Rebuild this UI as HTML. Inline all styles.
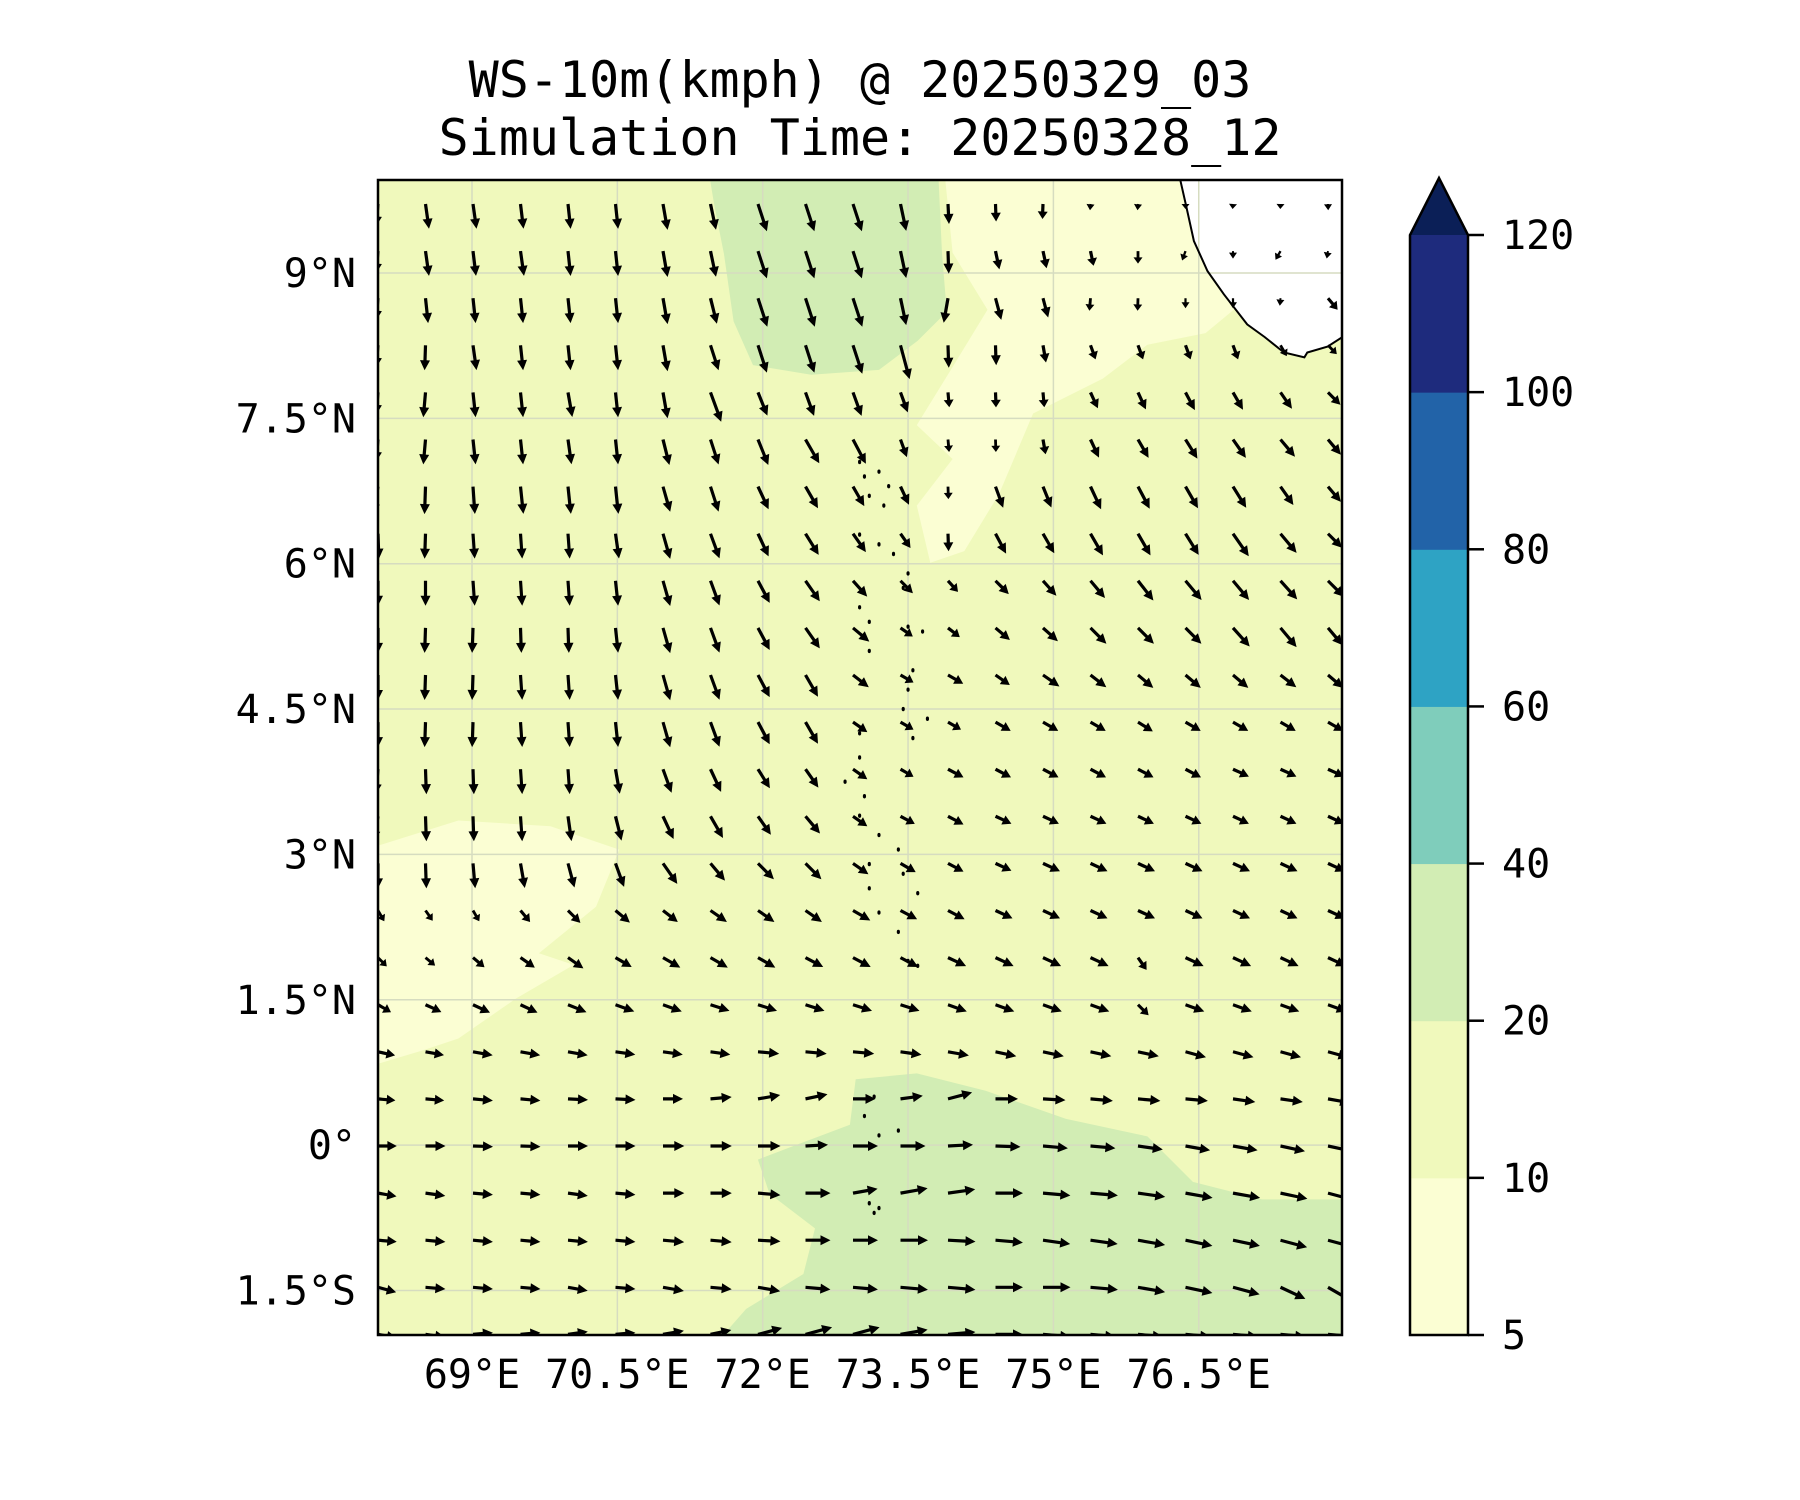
<!DOCTYPE html>
<html><head><meta charset="utf-8">
<style>
html,body{margin:0;padding:0;background:#fff;}
svg{display:block;}
text{font-family:"DejaVu Sans Mono","Liberation Mono",monospace;fill:#000;}
</style></head>
<body>
<svg id="chart" width="1800" height="1500" viewBox="0 0 1800 1500" xmlns="http://www.w3.org/2000/svg">
  <text x="860" y="97" font-size="50" text-anchor="middle">WS-10m(kmph) @ 20250329_03</text>
  <text x="860" y="155" font-size="50" text-anchor="middle">Simulation Time: 20250328_12</text>
  <defs><clipPath id="mapclip"><rect x="378" y="180" width="964" height="1155"/></clipPath></defs>
  <g id="map" clip-path="url(#mapclip)"></g>
  <rect x="378" y="180" width="964" height="1155" fill="none" stroke="#000" stroke-width="2.5"/>
  <g id="axes"></g>
  <g id="cbar"></g>
</svg>
<script>
const NS="http://www.w3.org/2000/svg";
// ---- data ----
const lonTicks=[69,70.5,72,73.5,75,76.5];
const lonTickLabels=["69°E","70.5°E","72°E","73.5°E","75°E","76.5°E"];
const latTicks=[9,7.5,6,4.5,3,1.5,0,-1.5];
const latTickLabels=["9°N","7.5°N","6°N","4.5°N","3°N","1.5°N","0°","1.5°S"];
const cbarLevels=[5,10,20,40,60,80,100,120];
const cbarColors=["#fbfed3","#f0f9bc","#d2edb4","#7fcdbb","#2ea3c4","#2263a8","#1e2b7d"];
const cbarExtendColor="#0b1f57";
// wind direction (screen degrees, 0=east, 90=south) per row (north→south) and column (west→east)
const windDir=[
[95,82,82,83,84,84,80,78,72,72,72,78,87,88,92,95,95,90,95,92,88],
[95,82,83,82,84,84,80,78,72,72,72,78,88,78,78,78,90,110,90,120,100],
[95,84,84,84,84,84,80,76,72,72,72,78,100,75,75,95,92,90,90,95,50],
[95,92,82,84,84,84,80,72,72,72,72,75,88,88,80,70,70,70,70,60,45],
[95,95,84,84,80,84,80,70,68,70,70,70,85,88,85,65,65,62,60,55,45],
[95,95,84,84,82,84,76,72,68,60,62,70,85,88,80,65,60,58,55,50,50],
[100,92,86,84,84,84,74,72,65,60,60,65,88,70,68,65,62,60,58,55,50],
[88,92,86,86,86,82,74,70,65,58,55,55,88,62,60,60,60,58,55,50,45],
[90,90,86,86,86,84,74,70,62,55,48,45,48,45,48,50,52,50,50,48,45],
[90,92,92,88,88,84,74,70,62,55,40,35,38,40,42,45,45,45,48,50,50],
[90,92,92,86,86,84,74,70,62,60,38,30,30,35,35,38,40,40,40,38,40],
[90,92,92,86,86,84,74,70,62,60,35,30,30,30,30,30,32,30,30,30,30],
[95,88,88,86,86,80,70,65,58,55,35,30,28,28,28,28,28,28,25,25,25],
[100,88,88,86,82,76,65,60,55,50,35,28,28,25,25,25,25,25,25,25,25],
[90,88,85,80,75,70,55,50,45,45,35,30,28,25,25,25,25,25,25,25,25],
[60,55,60,50,45,40,38,35,35,35,30,28,28,25,25,25,25,25,25,25,25],
[45,40,40,35,35,30,30,30,30,28,28,28,25,25,25,25,55,25,25,25,25],
[30,25,25,25,22,20,20,18,18,18,18,18,20,20,20,20,45,20,20,20,20],
[12,10,10,10,10,8,8,8,5,5,5,8,10,12,12,12,12,15,15,15,15],
[5,5,5,5,3,3,0,-5,-10,-12,0,-8,-15,0,3,5,5,5,8,8,10],
[0,0,2,2,0,0,0,0,0,-3,0,0,-3,2,5,5,8,10,10,12,12],
[10,8,5,5,8,5,0,0,5,0,-10,-10,-8,0,5,5,8,10,10,12,15],
[5,5,5,5,5,5,5,5,3,0,0,0,3,5,8,8,10,12,12,15,15],
[15,5,5,5,10,5,10,5,10,5,5,5,5,0,0,5,10,12,15,25,30],
[10,8,-5,-5,-8,-5,-10,-12,-15,-15,-15,-10,-5,0,5,5,5,5,5,5,5]
];
const windSpd=[
[18,20,20,20,20,20,21,21,23,23,23,22,16,14,12,5,5,4,4,4,5],
[18,20,20,20,20,20,21,21,23,23,23,22,18,15,14,12,10,8,6,8,6],
[18,20,20,20,20,20,21,21,24,24,24,22,20,18,16,10,10,8,8,6,12],
[18,20,20,20,20,20,21,21,23,23,24,28,18,16,14,12,12,12,12,10,10],
[18,20,20,20,20,20,21,25,20,20,20,17,12,12,12,14,15,16,16,16,14],
[18,20,20,20,20,20,21,21,22,22,22,15,10,10,12,16,17,18,18,18,16],
[22,22,22,22,22,22,21,21,20,20,18,16,10,18,18,20,20,20,20,18,16],
[20,20,20,20,20,20,21,21,20,20,18,14,14,18,18,20,20,20,22,20,16],
[20,20,20,20,20,20,21,21,20,20,17,14,12,15,16,18,20,20,20,20,18],
[20,20,20,20,20,20,21,21,20,20,17,12,12,15,16,18,18,18,20,20,18],
[20,20,20,20,20,20,21,21,20,20,16,12,14,14,16,16,16,16,16,16,16],
[20,20,20,20,20,20,21,21,20,20,14,12,12,14,14,14,14,14,14,14,14],
[20,20,20,20,20,20,20,20,18,18,14,12,14,14,14,14,14,14,14,14,14],
[20,20,20,20,20,20,20,20,18,18,14,13,14,14,14,14,14,14,14,14,14],
[20,20,20,20,20,20,20,18,18,18,15,14,14,14,15,15,15,15,15,15,15],
[10,10,10,12,14,15,15,16,16,16,16,15,15,15,15,15,15,15,15,15,15],
[10,10,12,14,15,15,16,16,16,16,16,16,16,16,16,16,12,16,16,16,16],
[12,14,15,15,16,16,16,16,16,16,16,16,16,16,16,16,12,16,16,16,16],
[14,15,16,16,16,16,16,16,17,17,17,17,17,17,17,17,17,17,17,17,17],
[14,15,16,16,16,16,16,17,18,18,18,18,20,18,18,18,18,18,18,18,18],
[15,16,16,16,16,16,17,17,18,18,20,20,20,20,20,20,20,20,20,20,20],
[15,16,16,16,16,16,17,17,18,20,20,22,22,22,22,22,22,22,22,22,22],
[15,16,16,16,16,16,17,17,18,20,20,22,22,22,22,22,22,22,22,22,22],
[15,16,16,16,16,16,17,17,18,20,20,22,22,22,22,22,22,22,22,22,24],
[15,16,16,16,16,16,17,17,20,22,22,22,22,22,22,20,20,20,20,20,20]
];
// contour regions [lon,lat]
const greenNorth=[[71.4,10.3],[73.8,10.3],[73.85,9.2],[73.9,8.6],[73.6,8.3],[73.2,8.0],[72.5,7.95],[71.9,8.05],[71.7,8.5],[71.6,9.2],[71.5,9.7]];
const greenSouth=[[72.96,0.68],[73.59,0.74],[74.3,0.56],[75.13,0.27],[75.97,0.09],[76.44,-0.38],[77.15,-0.56],[78.1,-0.56],[78.1,-2.1],[71.47,-2.1],[71.83,-1.69],[72.42,-1.33],[72.54,-0.86],[72.07,-0.5],[71.95,-0.15],[72.42,0.03],[72.9,0.21]];
const lightWest=[[67.9,3.05],[68.86,3.35],[69.81,3.29],[70.52,3.05],[70.28,2.46],[69.69,1.98],[70.05,1.86],[69.45,1.51],[68.86,1.10],[68.5,0.98],[67.9,0.80]];
const lightNE=[[73.59,10.3],[78.1,10.3],[78.1,9.27],[77.15,8.86],[76.57,8.38],[75.97,8.26],[75.51,7.91],[74.79,7.55],[74.44,6.72],[74.08,6.13],[73.73,6.01],[73.59,6.6],[73.96,7.08],[73.59,7.43],[73.96,8.03],[74.32,8.62],[73.96,9.21],[73.85,10.3]];
const coast=[[76.3,10.0],[76.37,9.69],[76.45,9.33],[76.59,9.02],[76.76,8.78],[77.0,8.47],[77.18,8.34],[77.38,8.18],[77.59,8.13],[77.62,8.18],[77.83,8.24],[78.0,8.35]];
const islands=[[73.0,7.05],[73.05,6.9],[73.2,6.95],[73.3,6.8],[73.1,6.7],[73.25,6.6],[73.0,6.3],[73.2,6.2],[73.35,6.1],[73.5,5.9],[73.45,5.75],[73.0,5.55],[73.1,5.4],[73.5,5.35],[73.65,5.3],[73.1,5.1],[73.55,4.9],[73.5,4.7],[73.45,4.5],[73.7,4.4],[73.55,4.2],[73.0,4.25],[73.0,4.0],[72.85,3.75],[73.05,3.6],[73.0,3.4],[73.2,3.2],[73.1,2.9],[73.4,3.05],[73.45,2.8],[73.1,2.65],[73.2,2.4],[73.6,2.6],[73.4,2.2],[73.5,1.9],[73.6,1.85],[73.15,0.5],[73.05,0.3],[73.2,0.1],[73.4,0.15],[73.1,-0.6],[73.2,-0.65],[73.15,-0.7]];
// ---- axis functions ----
const PPD=96.9;
function X(lon){return 472+(lon-69)*PPD;}
function Y(lat){return 273+(9-lat)*PPD;}
function colX(j){return 378+47.5*j;}
function rowY(k){return 204+47.1*k;}
const ARROW_SCALE=1.25;
function cbY(i){return 1335-i*(1100/7);}

const map=document.getElementById('map');
function mk(tag,attrs,parent){const e=document.createElementNS(NS,tag);for(const a in attrs)e.setAttribute(a,attrs[a]);(parent||map).appendChild(e);return e;}
function poly(pts){return pts.map(p=>X(p[0]).toFixed(1)+","+Y(p[1]).toFixed(1)).join(" ");}

let bg=mk('rect',{x:378,y:180,width:964,height:1155,fill:cbarColors[1]});


let p1=mk('polygon',{points:poly(greenNorth),fill:cbarColors[2]});


let p2=mk('polygon',{points:poly(greenSouth),fill:cbarColors[2]});


let p3=mk('polygon',{points:poly(lightWest),fill:cbarColors[0]});


let p4=mk('polygon',{points:poly(lightNE),fill:cbarColors[0]});


let land=mk('polygon',{points:poly(coast.concat([[78.1,8.35],[78.1,10.3],[76.3,10.3]])),fill:"#ffffff"});


// gridlines
lonTicks.forEach(l=>{let g=mk('line',{x1:X(l),x2:X(l),y1:180,y2:1335,stroke:"#d6dcc0","stroke-width":1.5});

});
latTicks.forEach(l=>{let g=mk('line',{x1:378,x2:1342,y1:Y(l),y2:Y(l),stroke:"#d6dcc0","stroke-width":1.5});

});
let cl=mk('polyline',{points:poly(coast),fill:"none",stroke:"#000","stroke-width":2});


islands.forEach(p=>{let d=mk('ellipse',{cx:X(p[0]),cy:Y(p[1]),rx:1.6,ry:2.2,fill:"#000"});

});
// arrows
for(let k=0;k<windDir.length;k++){for(let j=0;j<windDir[k].length;j++){
  const a=windDir[k][j]*Math.PI/180,L=windSpd[k][j]*ARROW_SCALE;
  const x0=colX(j),y0=rowY(k),ux=Math.cos(a),uy=Math.sin(a),nx=-uy,ny=ux;
  const f=Math.min(1,L/14);
  const w=1.6*Math.max(0.6,f),hw=5*Math.max(0.8,f),hl=Math.min(10,Math.max(6,L*0.5)),sl=Math.max(0,L-hl);
  const pts=[[x0+nx*w,y0+ny*w],[x0+ux*sl+nx*w,y0+uy*sl+ny*w],[x0+ux*sl+nx*hw,y0+uy*sl+ny*hw],[x0+ux*L,y0+uy*L],
    [x0+ux*sl-nx*hw,y0+uy*sl-ny*hw],[x0+ux*sl-nx*w,y0+uy*sl-ny*w],[x0-nx*w,y0-ny*w]];
  const ar=mk('polygon',{points:pts.map(p=>p[0].toFixed(1)+","+p[1].toFixed(1)).join(" "),fill:"#000"});
  
  
}}
// axes labels
const axes=document.getElementById('axes');
lonTicks.forEach((l,i)=>{const t=mk('text',{x:X(l),y:1388,"font-size":40,"text-anchor":"middle"},axes);t.textContent=lonTickLabels[i];

});
latTicks.forEach((l,i)=>{const t=mk('text',{x:356,y:Y(l)+14,"font-size":40,"text-anchor":"end"},axes);t.textContent=latTickLabels[i];

});
// colorbar
const cb=document.getElementById('cbar');
for(let i=0;i<cbarColors.length;i++){const r=mk('rect',{x:1410,y:cbY(i+1),width:58,height:cbY(i)-cbY(i+1)+0.5,fill:cbarColors[i]},cb);

}
const tri=mk('polygon',{points:`1410,${cbY(7)} 1468,${cbY(7)} 1439,178`,fill:cbarExtendColor},cb);


const ol=mk('polygon',{points:`1410,1335 1468,1335 1468,${cbY(7)} 1439,178 1410,${cbY(7)}`,fill:"none",stroke:"#000","stroke-width":2.5},cb);


cbarLevels.forEach((v,i)=>{const y=cbY(i);
  const tk=mk('line',{x1:1468,x2:1484,y1:y,y2:y,stroke:"#000","stroke-width":2.5},cb);
  
  
  const t=mk('text',{x:1502,y:y+14,"font-size":40},cb);t.textContent=v;
  
  });
</script>
</body></html>
